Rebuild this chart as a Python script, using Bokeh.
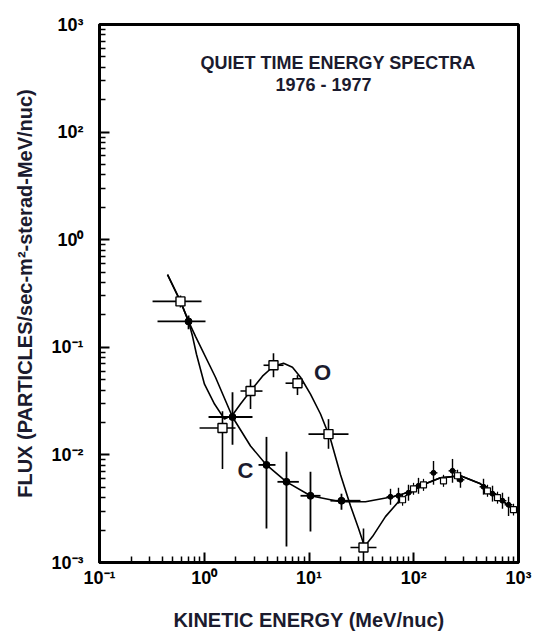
from bokeh.plotting import figure
from bokeh.models import FixedTicker, Label
from bokeh.embed import file_html
from bokeh.resources import INLINE

# ---------------- data ----------------
# fitted curves
o_curve_e = [0.446, 0.593, 0.708, 0.773, 0.843, 1.005, 1.253, 1.560, 1.861, 2.218, 2.765,
             3.597, 4.581, 5.715, 6.950, 8.299, 10.33, 12.88, 16.03, 20.0, 24.89, 29.72,
             33.88, 40.37, 53.7, 71.5, 93.1, 129.4, 180.0, 279.3, 433.5, 630.6, 977.0]
o_curve_f = [0.474, 0.267, 0.174, 0.1265, 0.0861, 0.0454, 0.0297, 0.0215, 0.0235, 0.0297, 0.0392,
             0.0539, 0.0667, 0.0711, 0.0653, 0.0527, 0.0367, 0.0240, 0.01406, 0.00653, 0.00337, 0.00207,
             0.00141, 0.00174, 0.00267, 0.00367, 0.00454, 0.00539, 0.00612, 0.00640, 0.00539, 0.00408, 0.00290]
c_curve_e = [0.446, 0.593, 0.708, 0.825, 1.280, 1.861, 2.765, 3.927, 6.095, 10.33, 20.0,
             34.6, 62.7, 93.1, 129.4, 180.0, 279.3, 433.5, 630.6, 977.0]
c_curve_f = [0.474, 0.267, 0.174, 0.1265, 0.0527, 0.0225, 0.0121, 0.00807, 0.00562, 0.00417, 0.00367,
             0.00367, 0.00408, 0.00454, 0.00539, 0.00612, 0.00640, 0.00539, 0.00408, 0.00290]

# oxygen, low energy (open squares)
o_e = [0.593, 1.493, 2.765, 4.581, 7.762, 15.35, 33.13]
o_f = [0.267, 0.0178, 0.0392, 0.0681, 0.0464, 0.0156, 0.00138]
o_e_lo = [0.321, 0.902, 2.218, 3.681, 5.970, 9.886, 24.89]
o_e_hi = [0.942, 1.987, 3.597, 5.715, 8.851, 23.82, 44.08]
o_f_lo = [0.234, 0.00741, 0.0267, 0.0527, 0.0360, 0.0114, 0.00100]
o_f_hi = [0.303, 0.0255, 0.0506, 0.0880, 0.0551, 0.0215, 0.00207]

# carbon, low energy (filled dots)
c_e = [0.708, 1.861, 3.927, 6.095, 10.33, 20.42]
c_f = [0.174, 0.0225, 0.00807, 0.00562, 0.00417, 0.00375]
c_e_lo = [0.358, 1.099, 3.297, 5.0, 8.299, 16.03]
c_e_hi = [1.028, 2.888, 4.786, 8.0, 12.88, 31.0]
c_f_lo = [0.147, 0.0124, 0.00207, 0.00141, 0.00194, 0.00310]
c_f_hi = [0.198, 0.0383, 0.0147, 0.0107, 0.00697, 0.00436]

# carbon, high energy
ch_e = [60.0, 71.5, 89.1, 111.0, 154.4, 234.4, 279.3, 463.4, 564.9, 703.1, 803.5]
ch_f = [0.00408, 0.00417, 0.00445, 0.00516, 0.00681, 0.00711, 0.00587, 0.00506, 0.00436, 0.00375, 0.00344]
ch_e_lo = [55.0, 65.6, 81.7, 101.8, 141.7, 215.0, 256.2, 425.1, 518.3, 645.0, 737.2]
ch_e_hi = [65.4, 77.9, 97.1, 121.0, 168.3, 255.5, 304.4, 505.1, 615.7, 766.4, 875.8]
ch_f_lo = [0.00344, 0.00352, 0.00375, 0.00435, 0.00528, 0.00551, 0.00495, 0.00427, 0.00368, 0.00316, 0.00270]
ch_f_hi = [0.00484, 0.00495, 0.00528, 0.00612, 0.00878, 0.00917, 0.00696, 0.00600, 0.00517, 0.00445, 0.00408]

# oxygen, high energy
oh_e = [78.2, 99.5, 123.9, 192.3, 261.8, 505.8, 630.6, 896.0]
oh_f = [0.00383, 0.00484, 0.00527, 0.00574, 0.00640, 0.00464, 0.00400, 0.00310]
oh_e_lo = [73.1, 93.0, 115.8, 179.7, 244.7, 472.7, 589.3, 837.4]
oh_e_hi = [83.7, 106.5, 132.6, 205.8, 280.1, 541.2, 674.7, 958.7]
oh_f_lo = [0.00337, 0.00426, 0.00463, 0.00505, 0.00563, 0.00408, 0.00352, 0.00273]
oh_f_hi = [0.00435, 0.00550, 0.00599, 0.00653, 0.00728, 0.00528, 0.00455, 0.00352]

x_ticks = [0.1, 1.0, 10.0, 100.0, 1000.0]
x_labels = ["10\u207b\u00b9", "10\u2070", "10\u00b9", "10\u00b2", "10\u00b3"]
y_ticks = [0.001, 0.01, 0.1, 1.0, 10.0, 100.0]
y_labels = ["10\u207b\u00b3", "10\u207b\u00b2", "10\u207b\u00b9", "10\u2070", "10\u00b2", "10\u00b3"]

FONT = "Liberation Sans"
INK = "#1b1b2e"

p = figure(width=538, height=633, x_axis_type="log", y_axis_type="log",
           x_range=(0.1, 1000), y_range=(1e-3, 1e2),
           output_backend="svg", toolbar_location=None,
           min_border_left=99, min_border_right=20, min_border_top=24, min_border_bottom=69)
p.grid.visible = False
p.outline_line_color = "black"
p.outline_line_width = 3
p.background_fill_color = "white"
p.border_fill_color = "white"

def minor(ticks):
    out = []
    for t in ticks[:-1]:
        out += [t * m for m in range(2, 10)]
    return out

for ax, ticks, labels in ((p.xaxis[0], x_ticks, x_labels), (p.yaxis[0], y_ticks, y_labels)):
    ax.ticker = FixedTicker(ticks=ticks, minor_ticks=minor(ticks))
    ax.major_label_overrides = {t: l for t, l in zip(ticks, labels)}
    ax.major_tick_in = 10
    ax.major_tick_out = 0
    ax.minor_tick_in = 6
    ax.minor_tick_out = 0
    ax.major_tick_line_width = 2
    ax.minor_tick_line_width = 1.5
    ax.major_tick_line_color = "black"
    ax.minor_tick_line_color = "black"
    ax.axis_line_width = 3
    ax.axis_line_color = "black"
    ax.major_label_text_font = FONT
    ax.major_label_text_font_style = "bold"
    ax.major_label_text_font_size = "18px"
    ax.major_label_text_color = "black"
    ax.axis_label_text_font = FONT
    ax.axis_label_text_font_style = "bold"
    ax.axis_label_text_font_size = "20px"
    ax.axis_label_text_color = INK

p.xaxis[0].axis_label = "KINETIC ENERGY (MeV/nuc)"
p.xaxis[0].major_label_standoff = 5
p.xaxis[0].axis_label_standoff = 18
p.yaxis[0].axis_label = "FLUX (PARTICLES/sec-m\u00b2-sterad-MeV/nuc)"
p.yaxis[0].major_label_standoff = 16
p.yaxis[0].axis_label_standoff = 12

# curves
p.line(o_curve_e, o_curve_f, line_color="black", line_width=1.6)
p.line(c_curve_e, c_curve_f, line_color="black", line_width=1.6)

# error bars
def errbars(e, f, elo, ehi, flo, fhi, w):
    p.segment(x0=elo, y0=f, x1=ehi, y1=f, line_color="black", line_width=w)
    p.segment(x0=e, y0=flo, x1=e, y1=fhi, line_color="black", line_width=w)

errbars(o_e, o_f, o_e_lo, o_e_hi, o_f_lo, o_f_hi, 1.6)
errbars(c_e, c_f, c_e_lo, c_e_hi, c_f_lo, c_f_hi, 1.8)
errbars(ch_e, ch_f, ch_e_lo, ch_e_hi, ch_f_lo, ch_f_hi, 1.4)
errbars(oh_e, oh_f, oh_e_lo, oh_e_hi, oh_f_lo, oh_f_hi, 1.2)

# markers
p.scatter(c_e, c_f, marker="circle", size=7, fill_color="black", line_color="black")
p.scatter(ch_e, ch_f, marker="circle", size=5, fill_color="black", line_color="black")
p.scatter(o_e, o_f, marker="square", size=9, fill_color="white", line_color="black", line_width=1.4)
p.scatter(oh_e, oh_f, marker="square", size=6, fill_color="white", line_color="black", line_width=1.2)

# annotations
p.add_layout(Label(x=0.92, y=43.5, text="QUIET TIME ENERGY SPECTRA", text_font=FONT,
                   text_font_style="bold", text_font_size="18px", text_color=INK,
                   text_align="left", text_baseline="alphabetic"))
p.add_layout(Label(x=4.786, y=27.2, text="1976 - 1977", text_font=FONT,
                   text_font_style="bold", text_font_size="18px", text_color=INK,
                   text_align="left", text_baseline="alphabetic"))
p.add_layout(Label(x=2.48, y=0.00711, text="C", text_font=FONT, text_font_style="bold",
                   text_font_size="22px", text_color=INK, text_align="center", text_baseline="middle"))
p.add_layout(Label(x=13.46, y=0.0587, text="O", text_font=FONT, text_font_style="bold",
                   text_font_size="22px", text_color=INK, text_align="center", text_baseline="middle"))

open("out.html", "w").write(file_html(p, INLINE))
